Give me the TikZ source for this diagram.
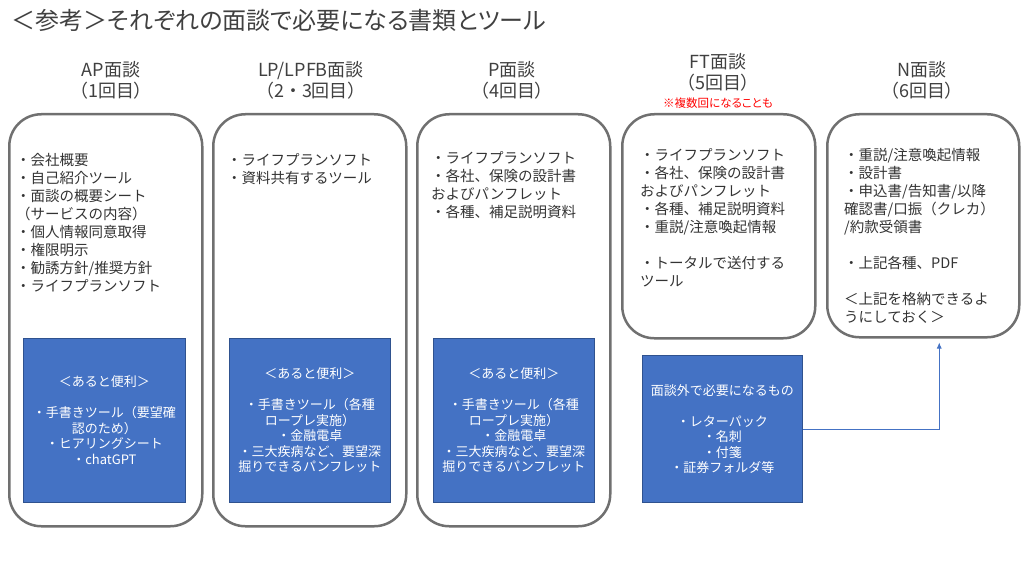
\documentclass[tikz,border=0pt]{standalone}
\usepackage{fontspec}
\setmainfont{Noto Sans CJK JP}
\newfontfamily\paltfont{Noto Sans CJK JP}[RawFeature=+palt]
\usetikzlibrary{arrows.meta,positioning}
\definecolor{box edge}{RGB}{112,112,112}
\definecolor{note fill}{RGB}{68,114,196}
\definecolor{note edge}{RGB}{47,82,143}
\colorlet{label text}{black!75}
\tikzset{meeting/.style={draw=box edge, line width=2.5pt, rounded corners=32pt,
        anchor=north west, inner sep=0pt},
    handy/.style={fill=note fill, draw=note edge, line width=0.75pt, anchor=north west,
        text=white, font=\fontsize{13}{15.5}\selectfont, align=center, inner sep=0pt},
    heading/.style={text=label text, font=\paltfont\fontsize{18}{21}\selectfont, align=center},
    items/.style={text=black!80, font=\fontsize{14.5}{18}\selectfont, align=left,
        anchor=north west, inner sep=0pt}}

\begin{document}
\begin{tikzpicture}[x=1pt, y=-1pt]
    \useasboundingbox (0,0) rectangle (1024,572);
    \node[text=label text, font=\paltfont\fontsize{24}{28}\selectfont, anchor=west] (title)
        at (8,20) {＜参考＞それぞれの面談で必要になる書類とツール};

    % headings
    \node[heading] (aphead) at (111,80) {AP面談\\（1回目）};
    \node[heading] (lphead) at (311,80) {LP/LPFB面談\\{\rmfamily（2・3回目）}};
    \node[heading] (phead) at (512,80) {P面談\\（4回目）};
    \node[heading] (fthead) at (718,72) {FT面談\\（5回目）};
    \node[text=red, font=\paltfont\fontsize{11.5}{13}\selectfont] (ftremark) at (718,103) {※複数回になることも};
    \node[heading] (nhead) at (922,80) {N面談\\（6回目）};

    % rounded frames
    \node[meeting, minimum width=193pt, minimum height=412pt] (apbox) at (8,113) {};
    \node[meeting, minimum width=193pt, minimum height=412pt] (lpbox) at (212,113) {};
    \node[meeting, minimum width=193pt, minimum height=412pt] (pbox) at (416,113) {};
    \node[meeting, minimum width=193pt, minimum height=224pt] (ftbox) at (621,113) {};
    \node[meeting, minimum width=192pt, minimum height=223pt] (nbox) at (826,113) {};

    % lists
    \node[items] (aplist) at (16,153) {・会社概要\\・自己紹介ツール\\・面談の概要シート\\（サービスの内容）\\
        ・個人情報同意取得\\・権限明示\\・勧誘方針/推奨方針\\・ライフプランソフト};
    \node[items] (lplist) at (227,153) {・ライフプランソフト\\・資料共有するツール};
    \node[items] (plist) at (431,151) {・ライフプランソフト\\・各社、保険の設計書\\およびパンフレット\\・各種、補足説明資料};
    \node[items] (ftlist) at (640,148) {・ライフプランソフト\\・各社、保険の設計書\\およびパンフレット\\
        ・各種、補足説明資料\\・重説/注意喚起情報\\[18pt]・トータルで送付する\\ツール};
    \node[items] (nlist) at (844,148) {・重説/注意喚起情報\\・設計書\\・申込書/告知書/以降\\確認書/口振（クレカ）\\
        /約款受領書\\[18pt]・上記各種、PDF\\[18pt]＜上記を格納できるよ\\うにしておく＞};

    % blue notes
    \node[handy, minimum width=162pt, minimum height=164pt] (apnote) at (23,338)
        {＜あると便利＞\\[15.5pt]・手書きツール（要望確\\認のため）\\・ヒアリングシート\\・chatGPT};
    \node[handy, minimum width=161pt, minimum height=164pt] (lpnote) at (229,338)
        {＜あると便利＞\\[15.5pt]・手書きツール（各種\\ロープレ実施）\\・金融電卓\\・三大疾病など、要望深\\掘りできるパンフレット};
    \node[handy, minimum width=161pt, minimum height=164pt] (pnote) at (433,338)
        {＜あると便利＞\\[15.5pt]・手書きツール（各種\\ロープレ実施）\\・金融電卓\\・三大疾病など、要望深\\掘りできるパンフレット};
    \node[handy, minimum width=160pt, minimum height=147pt] (ftnote) at (642,355)
        {面談外で必要になるもの\\[15.5pt]・レターパック\\・名刺\\・付箋\\・証券フォルダ等};

    \draw[-{Latex[length=6pt, width=5pt]}, draw=note fill, line width=0.75pt, shorten >=4pt]
        (ftnote.east) -| ([xshift=16pt]nbox.south);
\end{tikzpicture}
\end{document}
